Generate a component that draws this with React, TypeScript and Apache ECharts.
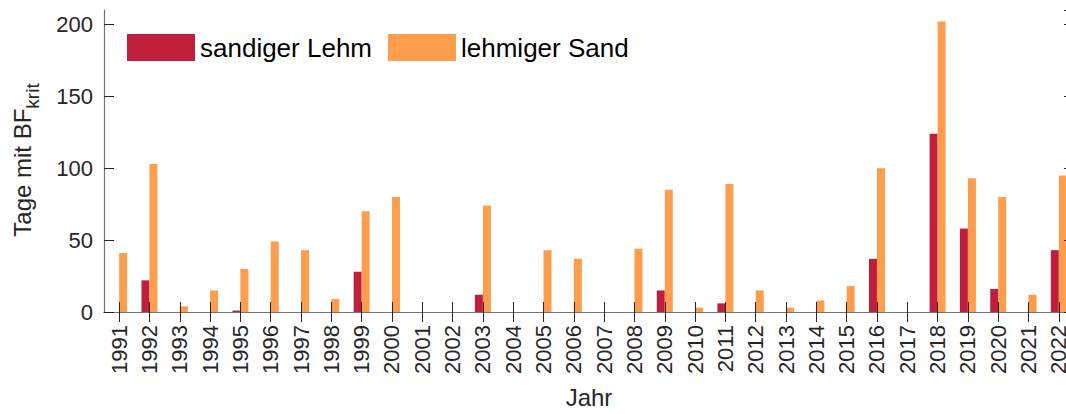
import React, { useEffect, useRef } from "react";
import * as echarts from "echarts";

const years = [
  "1991", "1992", "1993", "1994", "1995", "1996", "1997", "1998", "1999", "2000",
  "2001", "2002", "2003", "2004", "2005", "2006", "2007", "2008", "2009", "2010",
  "2011", "2012", "2013", "2014", "2015", "2016", "2017", "2018", "2019", "2020",
  "2021", "2022",
];
const sandigerLehm = [
  0, 22, 0, 0, 1, 0, 0, 0, 28, 0,
  0, 0, 12, 0, 0, 0, 0, 0, 15, 0,
  6, 0, 0, 0, 0, 37, 0, 124, 58, 16,
  0, 43,
];
const lehmigerSand = [
  41, 103, 4, 15, 30, 49, 43, 9, 70, 80,
  0, 0, 74, 0, 43, 37, 0, 44, 85, 3,
  89, 15, 3, 8, 18, 100, 0, 202, 93, 80,
  12, 95,
];
const yTicks = { min: 0, max: 210, interval: 50 };

const FONT = "Liberation Sans, Arial, Helvetica, sans-serif";
const TXT = "#262626";
const FRAME = "#737373";
const RED = "#C01F3C";
const ORANGE = "#FE9D4E";

export default function App() {
  const ref = useRef<HTMLDivElement>(null);
  useEffect(() => {
    if (!ref.current) return;
    const chart = echarts.init(ref.current, null, { renderer: "svg" });
    const tick = { show: true, inside: true, length: 10, lineStyle: { color: TXT, width: 1 } };
    const line = { show: true, lineStyle: { color: FRAME, width: 1.2 } };
    chart.setOption({
      animation: false,
      backgroundColor: "#ffffff",
      textStyle: { fontFamily: FONT },
      grid: { left: 104, right: 0, top: 10, bottom: 96, containLabel: false },
      legend: {
        left: 127,
        top: 34,
        padding: 0,
        icon: "rect",
        itemWidth: 68,
        itemHeight: 27,
        itemGap: 16,
        textStyle: { fontSize: 26, color: "#000", fontFamily: FONT },
        data: ["sandiger Lehm", "lehmiger Sand"],
      },
      xAxis: [
        {
          type: "category",
          data: years,
          position: "bottom",
          z: 5,
          axisLine: line,
          axisTick: { ...tick, alignWithLabel: true, interval: 0 },
          axisLabel: { rotate: 90, fontSize: 22, color: TXT, margin: 13, fontFamily: FONT, interval: 0 },
          name: "Jahr",
          nameLocation: "middle",
          nameGap: 73,
          nameTextStyle: { fontSize: 24, color: TXT, fontFamily: FONT },
          splitLine: { show: false },
        },
        {
          type: "category",
          data: years,
          position: "top",
          z: 5,
          axisLine: line,
          axisTick: { ...tick, alignWithLabel: true, interval: 0 },
          axisLabel: { show: false },
          splitLine: { show: false },
        },
      ],
      yAxis: [
        {
          type: "value",
          ...yTicks,
          position: "left",
          z: 5,
          axisLine: line,
          axisTick: tick,
          axisLabel: { fontSize: 22, color: TXT, margin: 11, fontFamily: FONT, showMaxLabel: false },
          splitLine: { show: false },
        },
        {
          type: "value",
          ...yTicks,
          position: "right",
          z: 5,
          axisLine: line,
          axisTick: tick,
          axisLabel: { show: false },
          splitLine: { show: false },
        },
      ],
      series: [
        {
          name: "sandiger Lehm",
          type: "bar",
          data: sandigerLehm,
          barWidth: 8,
          barGap: "0%",
          itemStyle: { color: RED },
        },
        {
          name: "lehmiger Sand",
          type: "bar",
          data: lehmigerSand,
          barWidth: 8,
          barGap: "0%",
          itemStyle: { color: ORANGE },
        },
      ],
      graphic: [
        {
          type: "text",
          x: 22,
          y: 160,
          rotation: Math.PI / 2,
          style: {
            text: "{m|Tage mit BF}{s|krit}",
            align: "center",
            verticalAlign: "middle",
            fill: TXT,
            rich: {
              m: { fontSize: 24, lineHeight: 24, verticalAlign: "top", fill: TXT, fontFamily: FONT },
              s: { fontSize: 19, lineHeight: 18, verticalAlign: "middle", padding: [20, 0, 0, 0], fill: TXT, fontFamily: FONT },
            },
          },
        },
      ],
    });
    return () => chart.dispose();
  }, []);
  return (
    <div style={{ position: "fixed", left: 0, top: 0, width: 1066, height: 414, overflow: "hidden", background: "#fff" }}>
      <div ref={ref} style={{ position: "absolute", left: 0, top: 0, width: 1074, height: 414 }} />
    </div>
  );
}
